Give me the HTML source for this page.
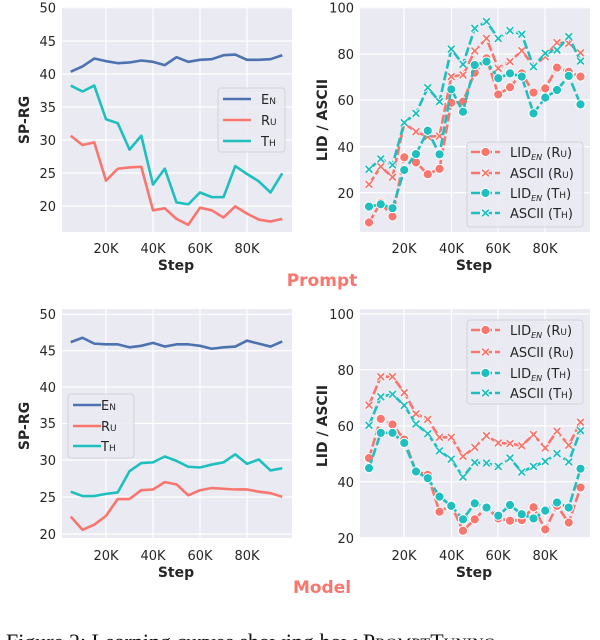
<!DOCTYPE html>
<html><head><meta charset="utf-8">
<style>
body{margin:0;background:#fff;width:600px;height:640px;overflow:hidden}
svg{display:block}
text{font-family:"DejaVu Sans","Liberation Sans",sans-serif;fill:#262626}
.t{font-size:13px}
.yl{font-size:14px;font-weight:bold}
.sc{font-variant:small-caps}
</style></head><body>
<svg id="s" width="600" height="640" viewBox="0 0 600 640">
<g id="bg"></g>
<g id="plots"></g>
<!-- top-left labels -->
<g class="t" text-anchor="end">
<text x="56" y="12.5">50</text><text x="56" y="46">45</text><text x="56" y="79">40</text><text x="56" y="112">35</text><text x="56" y="145">30</text><text x="56" y="178">25</text><text x="56" y="211">20</text>
<text x="354" y="12.5">100</text><text x="354" y="59">80</text><text x="354" y="105">60</text><text x="354" y="152">40</text><text x="354" y="198">20</text>
<text x="56" y="319">50</text><text x="56" y="355.5">45</text><text x="56" y="392">40</text><text x="56" y="428">35</text><text x="56" y="465">30</text><text x="56" y="502">25</text><text x="56" y="539">20</text>
<text x="354" y="319">100</text><text x="354" y="375">80</text><text x="354" y="431">60</text><text x="354" y="487">40</text><text x="354" y="543">20</text>
</g>
<g class="t" text-anchor="middle">
<text x="106" y="253">20K</text><text x="153" y="253">40K</text><text x="200" y="253">60K</text><text x="247" y="253">80K</text>
<text x="404" y="253">20K</text><text x="451.5" y="253">40K</text><text x="498" y="253">60K</text><text x="545" y="253">80K</text>
<text x="106" y="560">20K</text><text x="153" y="560">40K</text><text x="200" y="560">60K</text><text x="247" y="560">80K</text>
<text x="404" y="560">20K</text><text x="451.5" y="560">40K</text><text x="498" y="560">60K</text><text x="545" y="560">80K</text>
</g>
<g class="yl" text-anchor="middle">
<text x="176" y="270">Step</text><text x="474" y="270">Step</text>
<text x="176" y="577">Step</text><text x="474" y="577">Step</text>
<text transform="translate(29,120) rotate(-90)">SP-RG</text>
<text transform="translate(327,120) rotate(-90)">LID / ASCII</text>
<text transform="translate(29,426) rotate(-90)">SP-RG</text>
<text transform="translate(327,426) rotate(-90)">LID / ASCII</text>
</g>
<text x="322" y="286" text-anchor="middle" style="font-size:17px;font-weight:bold;fill:#f8766d">Prompt</text>
<text x="322" y="593" text-anchor="middle" style="font-size:17px;font-weight:bold;fill:#f8766d">Model</text>
<text x="6" y="649" style="font-family:'Liberation Serif',serif;font-size:22px;fill:#111">Figure 2: Learning curves showing how P<tspan style="font-size:16px">ROMPT</tspan>T<tspan style="font-size:16px">UNING</tspan></text>

<!-- legends -->
<g id="leg"></g>
<g style="font-size:13px">
<text x="261" y="104" class="sc">En</text><text x="261" y="125" class="sc">Ru</text><text x="261" y="146" class="sc">Th</text>
<text x="101" y="410" class="sc">En</text><text x="101" y="431" class="sc">Ru</text><text x="101" y="451" class="sc">Th</text>
<text x="510" y="157">LID<tspan style="font-size:8px;font-style:italic" dy="3">EN</tspan><tspan dy="-3"> (</tspan><tspan class="sc">Ru</tspan>)</text>
<text x="510" y="178">ASCII (<tspan class="sc">Ru</tspan>)</text>
<text x="510" y="198">LID<tspan style="font-size:8px;font-style:italic" dy="3">EN</tspan><tspan dy="-3"> (</tspan><tspan class="sc">Th</tspan>)</text>
<text x="510" y="218">ASCII (<tspan class="sc">Th</tspan>)</text>
<text x="510" y="335">LID<tspan style="font-size:8px;font-style:italic" dy="3">EN</tspan><tspan dy="-3"> (</tspan><tspan class="sc">Ru</tspan>)</text>
<text x="510" y="357">ASCII (<tspan class="sc">Ru</tspan>)</text>
<text x="510" y="378">LID<tspan style="font-size:8px;font-style:italic" dy="3">EN</tspan><tspan dy="-3"> (</tspan><tspan class="sc">Th</tspan>)</text>
<text x="510" y="398">ASCII (<tspan class="sc">Th</tspan>)</text>
</g>
</svg>
<script>
const NS="http://www.w3.org/2000/svg";
const B="#4c72b0",R="#f8766d",T="#1fbfc0";
function el(p,tag,a){const e=document.createElementNS(NS,tag);for(const k in a)e.setAttribute(k,a[k]);p.appendChild(e);return e;}
const bg=document.getElementById('bg'),pl=document.getElementById('plots'),lg=document.getElementById('leg');
const xs=[106,153,200,247],xs2=[404,451.5,498,545];
function panel(x0,x1,y0,y1,yt,xt){
 el(bg,'rect',{x:x0,y:y0,width:x1-x0,height:y1-y0,fill:'#eaeaf2'});
 yt.forEach(y=>el(bg,'line',{x1:x0,x2:x1,y1:y,y2:y,stroke:'#fff','stroke-width':1.2}));
 xt.forEach(x=>el(bg,'line',{x1:x,x2:x,y1:y0,y2:y1,stroke:'#fff','stroke-width':1.2}));
}
panel(62,292,7,232,[7.7,41,74,107,140,173,206],xs);
panel(360,590,7,232,[7.7,54,100,146.6,192.7],xs2);
panel(62,292,309,538,[314.3,350.7,387,423.5,460,497,534],xs);
panel(360,590,309,538,[314,369.7,425.8,481.8,537.7],xs2);
function X(i,r){return (r?369:70.75)+i*11.75*(r?1:1);}
function line(data,fx,fy,col,opt){
 const pts=data.map((v,i)=>[fx(i),fy(v)]);
 el(pl,'polyline',{points:pts.map(p=>p.join(',')).join(' '),fill:'none',stroke:col,'stroke-width':2.6,'stroke-linejoin':'round','stroke-dasharray':opt?'9 3':'none'});
 if(opt==='o')pts.forEach(p=>el(pl,'circle',{cx:p[0],cy:p[1],r:4.6,fill:col,stroke:'#fff','stroke-width':1}));
 if(opt==='x')pts.forEach(p=>{const d=3.3;el(pl,'path',{d:`M${p[0]-d},${p[1]-d}L${p[0]+d},${p[1]+d}M${p[0]-d},${p[1]+d}L${p[0]+d},${p[1]-d}`,stroke:'#fff','stroke-width':3.6});el(pl,'path',{d:`M${p[0]-d},${p[1]-d}L${p[0]+d},${p[1]+d}M${p[0]-d},${p[1]+d}L${p[0]+d},${p[1]-d}`,stroke:col,'stroke-width':1.8});});
}
const fxL=i=>70.75+i*11.75, fxR=i=>369+i*11.75;
// top-left
let fy=v=>7.7+(50-v)*6.6;
line([40.3,41.1,42.3,41.9,41.6,41.7,42.0,41.8,41.3,42.5,41.8,42.1,42.2,42.8,42.9,42.1,42.1,42.2,42.8],fxL,fy,B);
line([30.6,29.2,29.6,23.8,25.6,25.8,25.9,19.3,19.6,18.0,17.1,19.7,19.3,18.2,19.9,18.8,17.9,17.6,18.0],fxL,fy,R);
line([38.2,37.3,38.2,33.1,32.5,28.5,30.6,23.2,25.6,20.5,20.2,22.0,21.3,21.3,26.0,24.8,23.7,22.0,24.9],fxL,fy,T);
// top-right
fy=v=>7.7+(100-v)*2.3125;
line([23.6,31.3,26.7,50,46.4,44.2,44.5,70.2,70.9,81.3,86.7,73.8,76.7,81.4,74.8,78.8,84.9,84.6,80.5],fxR,fy,R,'x');
line([30.1,34.6,32,50.3,54.3,65.4,59.4,82.1,75.5,91.1,94.0,86.7,90.1,88.5,74.5,80.3,81.7,87.5,76.9],fxR,fy,T,'x');
line([7.1,15.7,9.7,35.3,33.1,28.0,30.3,58.9,59.4,71.9,78.1,62.5,65.6,71.6,63.3,65.1,74.1,72.3,70.2],fxR,fy,R,'o');
line([14,15,13.3,29.8,36.7,46.8,36.6,64.7,55,75.2,76.7,69.5,71.6,70.2,54.3,61.1,64.4,70.5,58.2],fxR,fy,T,'o');
// bottom-left
fy=v=>314.3+(50-v)*7.33;
line([46.2,46.8,46.0,45.9,45.9,45.5,45.7,46.1,45.6,45.9,45.9,45.7,45.3,45.5,45.6,46.4,46.0,45.6,46.3],fxL,fy,B);
line([22.4,20.6,21.3,22.5,24.8,24.8,26.0,26.1,27.1,26.8,25.3,26.0,26.3,26.2,26.1,26.1,25.8,25.6,25.1],fxL,fy,R);
line([25.8,25.2,25.2,25.5,25.7,28.6,29.7,29.8,30.6,30.0,29.2,29.1,29.5,29.8,30.9,29.6,30.2,28.7,29.0],fxL,fy,T);
// bottom-right
fy=v=>314+(100-v)*2.797;
line([67.4,77.6,77.6,71.9,64.3,62.3,55.9,55.9,49.1,52.3,56.5,53.9,53.7,52.9,56.9,52.1,58.1,53.1,61.3],fxR,fy,R,'x');
line([60.2,70.4,71.3,67.3,60.7,57.2,51.1,48.1,41.7,46.9,46.7,45.5,48.5,43.5,45.5,47.3,50.1,47.1,58.3],fxR,fy,T,'x');
line([48.5,62.5,60.5,55.1,43.7,42.5,29.3,31.7,22.5,26.6,30.9,26.9,26.1,26.3,30.9,23,31.4,25.4,38],fxR,fy,R,'o');
line([44.9,57.5,57.5,53.9,43.7,41.3,34.7,31.4,26.6,32.3,30.8,27.9,31.7,28.4,26.9,29.7,32.6,30.8,44.7],fxR,fy,T,'o');
// legends
function box(x,y,w,h){el(lg,'rect',{x:x,y:y,width:w,height:h,rx:3,fill:'#eaeaf2','fill-opacity':0.85,stroke:'#ccc','stroke-width':0.8});}
box(218,88,67,64);
[[99,B],[120,R],[141,T]].forEach(a=>el(lg,'line',{x1:223,x2:251,y1:a[0],y2:a[0],stroke:a[1],'stroke-width':2.6}));
box(68,394,66,64);
[[405,B],[426,R],[446,T]].forEach(a=>el(lg,'line',{x1:73,x2:101,y1:a[0],y2:a[0],stroke:a[1],'stroke-width':2.6}));
function mk(y,c,t){
 el(lg,'line',{x1:471,x2:500,y1:y,y2:y,stroke:c,'stroke-width':2.6,'stroke-dasharray':'9 3'});
 const x=485.5;
 if(t==='o')el(lg,'circle',{cx:x,cy:y,r:4.6,fill:c,stroke:'#fff','stroke-width':1});
 else{const d=3.3;el(lg,'path',{d:`M${x-d},${y-d}L${x+d},${y+d}M${x-d},${y+d}L${x+d},${y-d}`,stroke:'#fff','stroke-width':3.6});el(lg,'path',{d:`M${x-d},${y-d}L${x+d},${y+d}M${x-d},${y+d}L${x+d},${y-d}`,stroke:c,'stroke-width':1.8});}
}
box(467,142,116,85);
mk(152,R,'o');mk(173,R,'x');mk(193,T,'o');mk(213,T,'x');
box(467,320,116,84);
mk(330,R,'o');mk(352,R,'x');mk(373,T,'o');mk(393,T,'x');
</script>
</body></html>
